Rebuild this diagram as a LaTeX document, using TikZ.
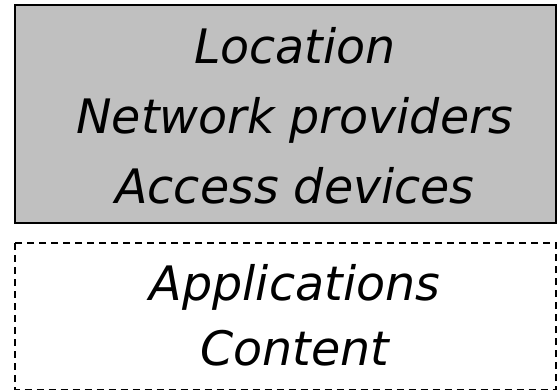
\documentclass[tikz,border=0pt]{standalone}
\usepackage{fontspec}
\setmainfont{DejaVu Sans}
\begin{document}
\begin{tikzpicture}[x=1pt,y=-1pt,
  lbl/.style={font=\fontsize{47.5}{50}\selectfont\itshape, anchor=base, inner sep=0pt},
  topbox/.style={draw=black, line width=2pt, fill=boxgray},
  botbox/.style={draw=black, line width=1.3pt, dash pattern=on 7pt off 5pt}]
\definecolor{boxgray}{HTML}{C0C0C0}
\useasboundingbox (0,0) rectangle (558,391);
\path[topbox] (15,5) rectangle (556,223);
\path[botbox] (15,243) rectangle (556,389.5);
\node[lbl] (loc) at (295,63) {Location};
\node[lbl] (net) at (295,133) {Network providers};
\node[lbl] (acc) at (295,203) {Access devices};
\node[lbl] (app) at (295,300) {Applications};
\node[lbl] (con) at (295,365) {Content};
\end{tikzpicture}
\end{document}
